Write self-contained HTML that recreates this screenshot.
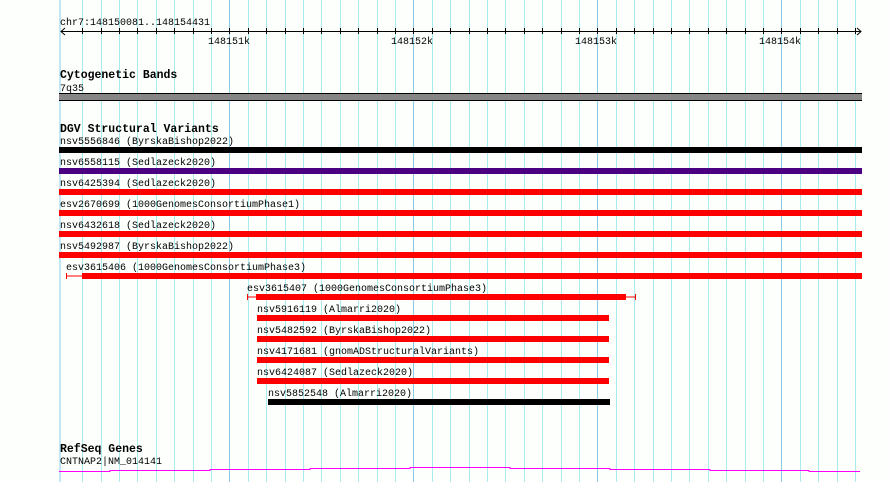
<!DOCTYPE html>
<html><head><meta charset="utf-8"><style>
html,body{margin:0;padding:0;background:#fff;}
svg{display:block;}
text{font-family:"Liberation Mono",monospace;font-size:10px;fill:#000;}
.b{font-weight:bold;font-size:11.5px;}
</style></head><body>
<svg width="890" height="482" xmlns="http://www.w3.org/2000/svg">
<rect width="890" height="482" fill="#fcfffc"/>
<g id="grid"></g>
<line x1="60" y1="0" x2="60" y2="482" stroke="#8ccbe8" stroke-width="1"/>
<g stroke="#000" stroke-width="1" id="axis">
<line x1="61" y1="31.5" x2="861" y2="31.5"/>
<polyline points="65,28 61,31.5 65,35" fill="none"/>
<polyline points="857,28 861,31.5 857,35" fill="none"/>
</g>
<text x="60" y="25">chr7:148150081..148154431</text>
<text x="208" y="44">148151k</text>
<text x="391" y="44">148152k</text>
<text x="575" y="44">148153k</text>
<text x="759" y="44">148154k</text>

<text class="b" x="60" y="78">Cytogenetic Bands</text>
<text x="60" y="91">7q35</text>
<rect x="59" y="93" width="803" height="8" fill="#868686"/>
<line x1="59" y1="93.5" x2="862" y2="93.5" stroke="#000"/>
<line x1="59" y1="100.5" x2="862" y2="100.5" stroke="#000"/>

<text class="b" x="60" y="132">DGV Structural Variants</text>
<text x="60" y="144">nsv5556846 (ByrskaBishop2022)</text>
<rect x="59" y="147" width="803" height="6" fill="#000"/>
<text x="60" y="165">nsv6558115 (Sedlazeck2020)</text>
<rect x="59" y="168" width="803" height="6" fill="#4b0082"/>
<text x="60" y="186">nsv6425394 (Sedlazeck2020)</text>
<rect x="59" y="189" width="803" height="6" fill="#ff0000"/>
<text x="60" y="207">esv2670699 (1000GenomesConsortiumPhase1)</text>
<rect x="59" y="210" width="803" height="6" fill="#ff0000"/>
<text x="60" y="228">nsv6432618 (Sedlazeck2020)</text>
<rect x="59" y="231" width="803" height="6" fill="#ff0000"/>
<text x="60" y="249">nsv5492987 (ByrskaBishop2022)</text>
<rect x="59" y="252" width="803" height="6" fill="#ff0000"/>
<text x="66" y="270">esv3615406 (1000GenomesConsortiumPhase3)</text>
<rect x="82" y="273" width="780" height="6" fill="#ff0000"/>
<line x1="66" y1="276" x2="82" y2="276" stroke="#ff0000"/>
<line x1="66.5" y1="273" x2="66.5" y2="279" stroke="#ff0000"/>
<text x="247" y="291">esv3615407 (1000GenomesConsortiumPhase3)</text>
<rect x="256" y="294" width="370" height="6" fill="#ff0000"/>
<line x1="247" y1="297" x2="636" y2="297" stroke="#ff0000"/>
<line x1="247.5" y1="294" x2="247.5" y2="300" stroke="#ff0000"/>
<line x1="635.5" y1="294" x2="635.5" y2="300" stroke="#ff0000"/>
<text x="257" y="312">nsv5916119 (Almarri2020)</text>
<rect x="257" y="315" width="352" height="6" fill="#ff0000"/>
<text x="257" y="333">nsv5482592 (ByrskaBishop2022)</text>
<rect x="257" y="336" width="352" height="6" fill="#ff0000"/>
<text x="257" y="354">nsv4171681 (gnomADStructuralVariants)</text>
<rect x="257" y="357" width="352" height="6" fill="#ff0000"/>
<text x="257" y="375">nsv6424087 (Sedlazeck2020)</text>
<rect x="257" y="378" width="352" height="6" fill="#ff0000"/>
<text x="268" y="396">nsv5852548 (Almarri2020)</text>
<rect x="268" y="399" width="342" height="6" fill="#000"/>

<text class="b" x="60" y="452">RefSeq Genes</text>
<text x="60" y="464">CNTNAP2|NM_014141</text>
<polyline fill="none" stroke="#ff00ff" stroke-width="1" points="59,471.5 110,471.5 110,470.5 210,470.5 210,469.5 310,469.5 310,468.5 410,468.5 410,467.5 510,467.5 510,468.5 610,468.5 610,469.5 710,469.5 710,470.5 809,470.5 809,471.5 860,471.5"/>
<script>
(function(){
var g=document.getElementById('grid'),a=document.getElementById('axis'),ns="http://www.w3.org/2000/svg";
for(var k=-8;k<=34;k++){
 var x=Math.round(229.3+k*18.4)+0.5;
 var major=(k%10===0);
 var l=document.createElementNS(ns,'line');
 l.setAttribute('x1',x);l.setAttribute('x2',x);l.setAttribute('y1',0);l.setAttribute('y2',482);
 l.setAttribute('stroke',major?'#8ccbe8':'#a8ecf0');
 g.appendChild(l);
 var t=document.createElementNS(ns,'line');
 t.setAttribute('x1',x);t.setAttribute('x2',x);t.setAttribute('y1',28);t.setAttribute('y2',34);
 a.appendChild(t);
}
})();
</script>
</svg>
</body></html>
